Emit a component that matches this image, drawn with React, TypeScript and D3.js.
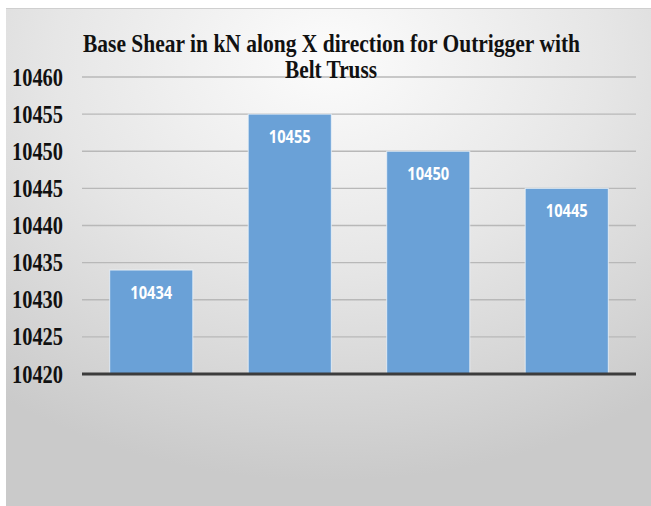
import React from "react";
import * as d3 from "d3";

const categories = ["A", "B", "C", "D"];
const values = [10434, 10455, 10450, 10445];
const yTicks = [10420, 10425, 10430, 10435, 10440, 10445, 10450, 10455, 10460];
const titleLines = ["Base Shear in kN along X direction for Outrigger with", "Belt Truss"];

export default function App() {
  const W = 651, H = 506;
  const x = d3.scaleBand<string>().domain(categories).range([82, 636]).paddingInner(0.4).paddingOuter(0.2);
  const y = d3.scaleLinear().domain([10420, 10460]).range([374, 77]);
  return (
    <svg width={W} height={H} style={{ position: "absolute", left: 0, top: 0 }}>
      <defs>
        <radialGradient id="bg" cx="0.5" cy="0.1" r="0.85" fx="0.5" fy="0.1">
          <stop offset="0" stopColor="#fcfcfc" />
          <stop offset="0.5" stopColor="#e6e6e6" />
          <stop offset="1" stopColor="#cacaca" />
        </radialGradient>
      </defs>
      <rect x={0} y={0} width={W} height={H} fill="#ffffff" />
      <rect x={6} y={8} width={W - 6} height={H - 8} fill="url(#bg)" />
      <line x1={6} x2={W} y1={8.5} y2={8.5} stroke="#cfcfcf" strokeWidth={1} />
      {yTicks.map((t) => (
        <g key={t}>
          {t !== 10420 && (
            <line x1={82} x2={636} y1={y(t)} y2={y(t)} stroke="#b8b8b8" strokeWidth={1.4} />
          )}
          <text
            x={63}
            y={y(t) + 8.5}
            textAnchor="end"
            fontFamily="'Liberation Serif', 'Times New Roman', serif"
            fontWeight="bold"
            fontSize={25}
            textLength={51}
            lengthAdjust="spacingAndGlyphs"
            fill="#111"
          >
            {t}
          </text>
        </g>
      ))}
      {categories.map((c, i) => (
        <g key={c}>
          <rect
            x={x(c)!}
            y={y(values[i])}
            width={x.bandwidth()}
            height={y(10420) - y(values[i])}
            fill="#6aa1d7"
            stroke="#eef4fa"
            strokeOpacity={0.8}
            strokeWidth={1}
          />
          <text
            x={x(c)! + x.bandwidth() / 2}
            y={y(values[i]) + 29}
            textAnchor="middle"
            fontFamily="'Open Sans', sans-serif"
            fontWeight="bold"
            fontSize={17}
            textLength={42}
            lengthAdjust="spacingAndGlyphs"
            fill="#ffffff"
          >
            {values[i]}
          </text>
        </g>
      ))}
      <line x1={82} x2={636} y1={y(10420)} y2={y(10420)} stroke="#3c3c3c" strokeWidth={3} />
      <text
        x={331.5}
        y={52}
        textAnchor="middle"
        fontFamily="'Liberation Serif', 'Times New Roman', serif"
        fontWeight="bold"
        fontSize={25.5}
        textLength={497}
        lengthAdjust="spacingAndGlyphs"
        fill="#111"
      >
        {titleLines[0]}
      </text>
      <text
        x={331}
        y={78}
        textAnchor="middle"
        fontFamily="'Liberation Serif', 'Times New Roman', serif"
        fontWeight="bold"
        fontSize={25.5}
        textLength={92}
        lengthAdjust="spacingAndGlyphs"
        fill="#111"
      >
        {titleLines[1]}
      </text>
    </svg>
  );
}
